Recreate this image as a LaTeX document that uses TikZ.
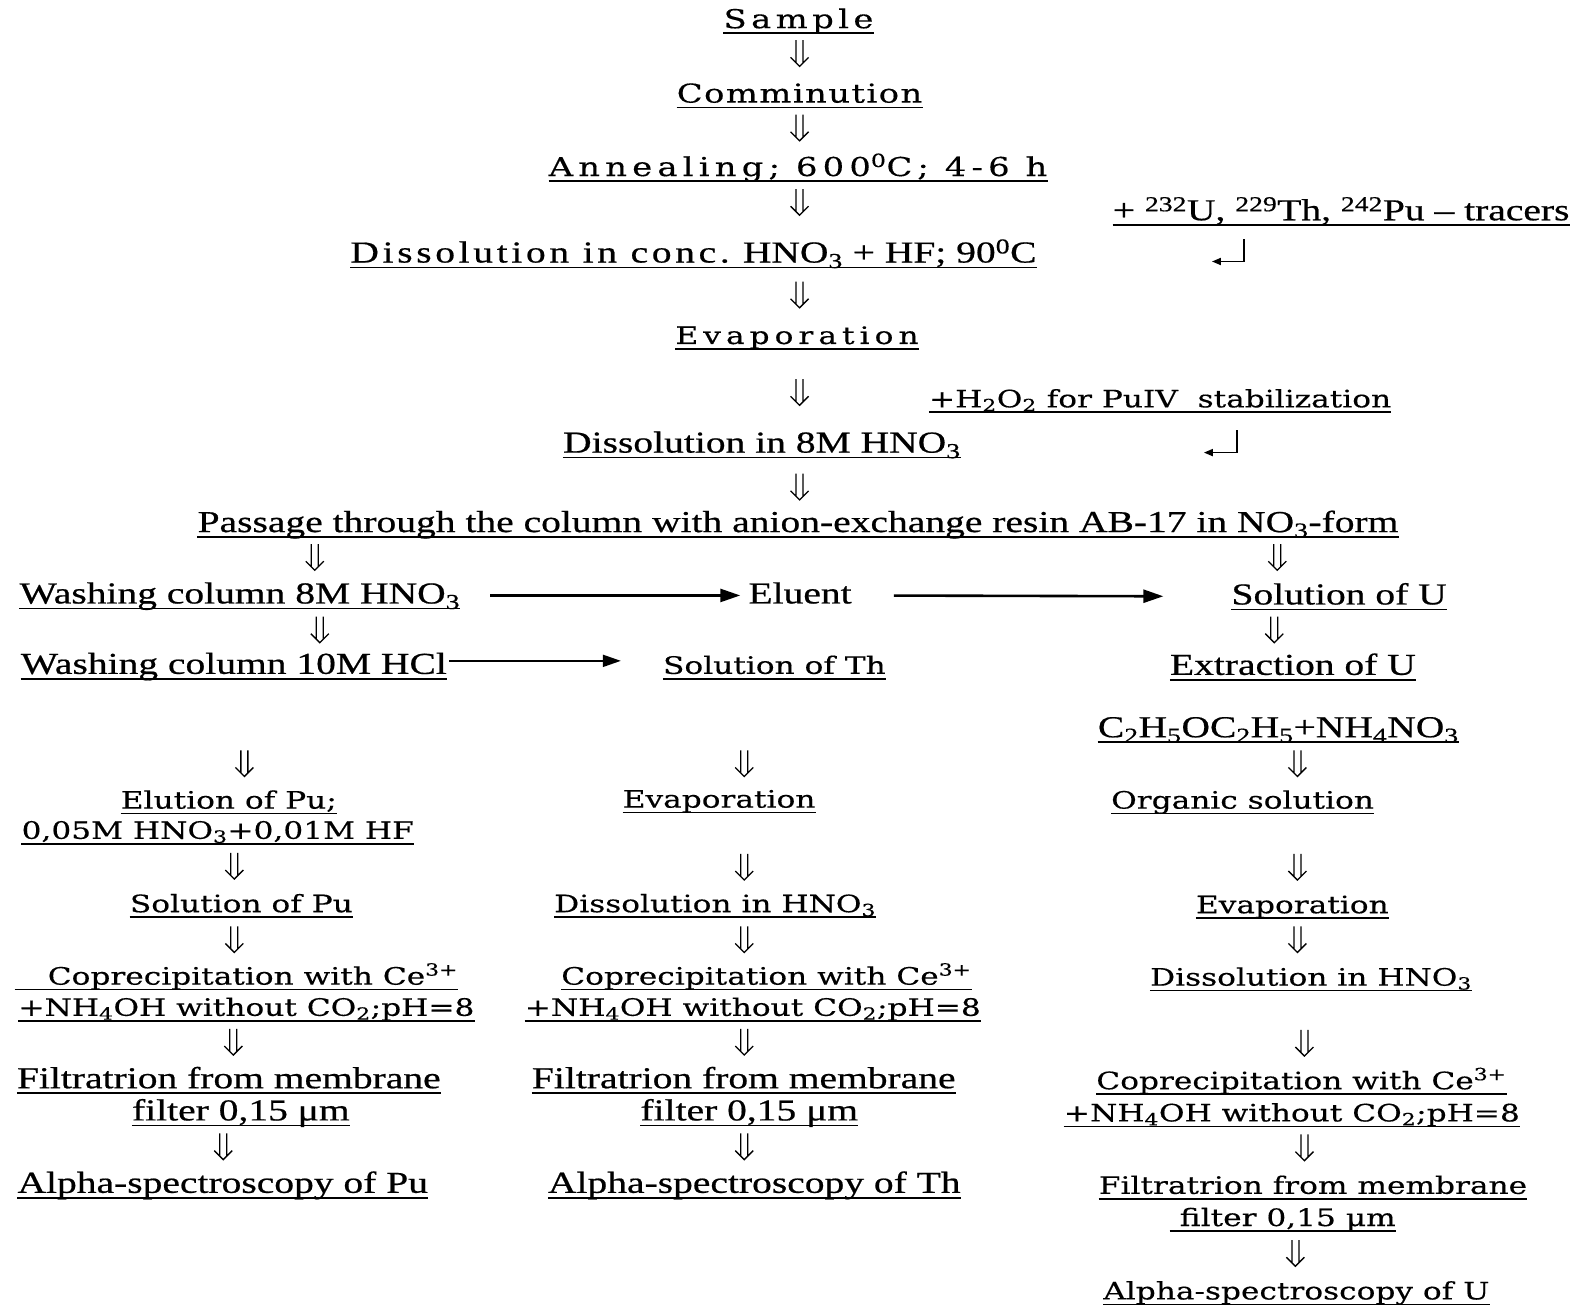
\documentclass[tikz,border=0pt]{standalone}
\usepackage{fontspec}
\setmainfont{Liberation Serif}
\newfontfamily\TmsFont[FakeStretch=1.3,FakeBold=0.6]{Liberation Serif}
\newfontfamily\TmsWide[FakeStretch=1.3,FakeBold=0.6,LetterSpace=12]{Liberation Serif}
\newfontfamily\SchFont[FakeStretch=1.3,FakeBold=0.4]{DejaVu Serif}
\newcommand\SpacedFont[2]{\SchFont\fontsize{#1}{30}\selectfont\addfontfeature{LetterSpace=#2}}
\usetikzlibrary{arrows.meta}

\begin{document}
\begin{tikzpicture}[x=1.0057pt,y=-1.0057pt,
  lbl/.style={inner sep=0pt,text depth=0pt,anchor=base},
  uline/.style={line width=1.7pt},
  ul/.style={append after command={([yshift=-5pt]\tikzlastnode.base west) edge[uline] ([yshift=-5pt]\tikzlastnode.base east)}},
  tms/.style={lbl,ul,font=\TmsFont\fontsize{30.4}{32}\selectfont},
  sch/.style={lbl,ul,font=\SchFont\fontsize{24}{26}\selectfont},
  schx/.style 2 args={lbl,ul,font={\SpacedFont{#1}{#2}}},
  dn/.style={line width=1.3pt,to path={
    ([xshift=-3.5pt]\tikztostart) -- ([xshift=-3.5pt,yshift=3.5pt]\tikztotarget)
    ([xshift=3.5pt]\tikztostart) -- ([xshift=3.5pt,yshift=3.5pt]\tikztotarget)
    ([xshift=-9pt,yshift=9pt]\tikztotarget) -- (\tikztotarget) -- ([xshift=9pt,yshift=9pt]\tikztotarget)}},
  harr/.style={line width=2.6pt,-{Triangle[length=20pt,width=13pt]}},
  harrs/.style={line width=1.8pt,-{Triangle[length=18pt,width=12pt]}},
  ret/.style={line width=1.8pt,-{Triangle[length=9pt,width=7pt]}}]
\useasboundingbox (0,0) rectangle (1568,1297);

% main line
\node[schx={26}{17}] (smp) at (794,28) {Sample};
\node[schx={26}{5.5}] (cmn) at (795,102) {Comminution};
\node[schx={26}{20}] (ann) at (793.5,175) {Annealing; 600\textsuperscript{0}C; 4-6 h};
\node[tms] (dis) at (689.5,261) {{\TmsWide Dissolution in conc.} HNO\textsubscript{3} + HF; 90\textsuperscript{0}C};
\node[tms] (trc) at (1333.5,219) {+ \textsuperscript{232}U, \textsuperscript{229}Th, \textsuperscript{242}Pu – tracers};
\node[schx={24}{21}] (evp) at (792.5,342) {Evaporation};
\node[sch] (hoo) at (1153.5,405) {+H\textsubscript{2}O\textsubscript{2} for PuIV\ \ stabilization};
\node[tms] (d8) at (757.5,450) {Dissolution in 8M HNO\textsubscript{3}};
\node[tms] (pas) at (793.5,529) {Passage through the column with anion-exchange resin AB-17 in NO\textsubscript{3}-form};

\node[tms] (w8) at (238.5,600) {Washing column 8M HNO\textsubscript{3}};
\node[lbl,font=\TmsFont\fontsize{30.4}{32}\selectfont] (elu) at (795.5,600) {Eluent};
\node[tms] (su) at (1331.5,601) {Solution of U};
\node[tms] (w10) at (232.5,670) {Washing column 10M HCl};
\node[sch] (sth) at (770,670) {Solution of Th};
\node[tms] (exu) at (1285.5,671) {Extraction of U\ };
\node[tms] (eth) at (1271,733) {C\textsubscript{2}H\textsubscript{5}OC\textsubscript{2}H\textsubscript{5}+NH\textsubscript{4}NO\textsubscript{3}};

% Pu
\node[sch] (elp) at (227.5,804) {Elution of Pu;};
\node[sch] (elh) at (216.5,834) {0,05M HNO\textsubscript{3}+0,01M HF};
\node[sch] (spu) at (240,907) {Solution of Pu};
\node[sch] (cp1) at (235,979) {\hspace*{33pt}Coprecipitation with Ce\textsuperscript{3+}};
\node[sch] (cp2) at (245,1010) {+NH\textsubscript{4}OH without CO\textsubscript{2};pH=8};
\node[tms] (fl1) at (227.5,1082) {Filtratrion from membrane};
\node[tms] (fl2) at (239.5,1114) {filter 0,15 μm\ };
\node[tms] (apu) at (221.5,1186) {Alpha-spectroscopy of Pu};

% Th
\node[sch] (ev2) at (715,803) {Evaporation};
\node[sch] (dh2) at (711,907) {Dissolution in HNO\textsubscript{3}};
\node[sch] (cq1) at (762,979) {Coprecipitation with Ce\textsuperscript{3+}};
\node[sch] (cq2) at (748.5,1010) {+NH\textsubscript{4}OH without CO\textsubscript{2};pH=8};
\node[tms] (fm1) at (739.5,1082) {Filtratrion from membrane\ };
\node[tms] (fm2) at (745,1114) {filter 0,15 μm};
\node[tms] (ath) at (750,1186) {Alpha-spectroscopy of Th\ };

% U
\node[sch] (org) at (1235.5,804) {Organic solution};
\node[sch] (ev3) at (1285,908) {Evaporation};
\node[sch] (dh3) at (1303.5,980) {Dissolution in HNO\textsubscript{3}};
\node[sch] (cr1) at (1294,1083) {Coprecipitation with Ce\textsuperscript{3+}};
\node[sch] (cr2) at (1284.5,1115) {+NH\textsubscript{4}OH without CO\textsubscript{2};pH=8};
\node[sch] (fr1) at (1305.5,1187) {Filtratrion from membrane};
\node[sch] (fr2) at (1275.5,1219) {\ filter 0,15 μm};
\node[sch] (au) at (1289,1292) {Alpha-spectroscopy of U};

% double arrows
\draw[dn] (smp.base) ++(1,12) to ++(0,26);
\draw[dn] (cmn.base) ++(0,12) to ++(0,26);
\draw[dn] (ann.base) ++(1.5,13) to ++(0,26);
\draw[dn] (dis.base) ++(105.5,19) to ++(0,26);
\draw[dn] (evp.base) ++(2.5,35) to ++(0,26);
\draw[dn] (d8.base) ++(37.5,21) to ++(0,26);
\draw[dn] (pas.base) ++(-480.5,12) to ++(0,26);
\draw[dn] (pas.base) ++(476.5,12) to ++(0,26);
\draw[dn] (w8.base) ++(79.5,13) to ++(0,26);
\draw[dn] (su.base) ++(-64.5,12) to ++(0,26);
\draw[dn] (w10.base) ++(10.5,76) to ++(0,26);
\draw[dn] (sth.base) ++(-30,76) to ++(0,26);
\draw[dn] (eth.base) ++(19,13) to ++(0,26);
\draw[dn] (elh.base) ++(16.5,14) to ++(0,26);
\draw[dn] (ev2.base) ++(25,46) to ++(0,26);
\draw[dn] (org.base) ++(54.5,45) to ++(0,26);
\draw[dn] (spu.base) ++(-7,14) to ++(0,26);
\draw[dn] (dh2.base) ++(29,14) to ++(0,26);
\draw[dn] (ev3.base) ++(5,13) to ++(0,26);
\draw[dn] (cp2.base) ++(-13,13) to ++(0,26);
\draw[dn] (cq2.base) ++(-8.5,13) to ++(0,26);
\draw[dn] (dh3.base) ++(-6.5,44) to ++(0,26);
\draw[dn] (fl2.base) ++(-17.5,13) to ++(0,26);
\draw[dn] (fm2.base) ++(-5,13) to ++(0,26);
\draw[dn] (cr2.base) ++(12.5,13) to ++(0,26);
\draw[dn] (fr2.base) ++(12.5,14) to ++(0,26);

% side inputs
\draw[ret] (trc.base) ++(-96.5,19) |- ++(-32,22);
\draw[ret] (hoo.base) ++(76.5,23) |- ++(-33,22);

% horizontal arrows
\draw[harr,shorten <=30pt,shorten >=8pt] ([yshift=8pt]w8.base east) -- ([yshift=8pt]elu.base west);
\draw[harr,shorten <=42pt,shorten >=68pt] ([yshift=8pt]elu.base east) -- ([yshift=8pt]su.base west);
\draw[harrs,shorten <=2pt,shorten >=42pt] ([yshift=13pt]w10.base east) -- ([yshift=13pt]sth.base west);

\end{tikzpicture}
\end{document}
